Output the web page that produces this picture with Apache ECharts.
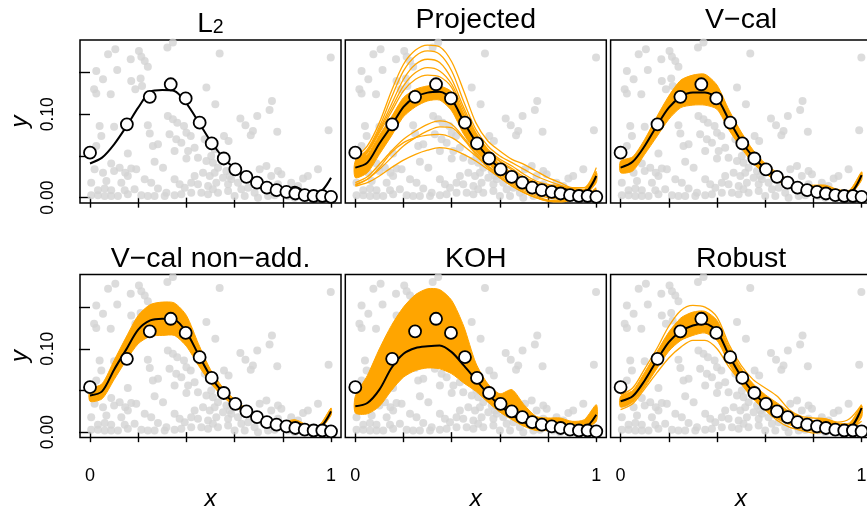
<!DOCTYPE html>
<html><head><meta charset="utf-8">
<script src="https://cdn.jsdelivr.net/npm/echarts@6/dist/echarts.min.js"></script>
<style>html,body{margin:0;padding:0;background:#fff}#c{width:867px;height:508px}</style>
</head><body><div id="c"></div>
<script>
// ---------- data ----------
const xGrid = [0,0.05,0.1,0.15,0.2,0.25,0.3,0.35,0.4,0.45,0.5,0.55,0.6,0.65,0.7,0.75,0.8,0.85,0.9,0.95,1];
const titles = ['L2','Projected','V\u2212cal','V\u2212cal non\u2212add.','KOH','Robust'];
const xTicks = [0,0.2,0.4,0.6,0.8,1];
const xTickLabels = [0,1];
const yTicks = [0,0.05,0.1,0.15];
const yTickLabels = [0,0.1];

const obsX = [0,0.153,0.248,0.335,0.397,0.455,0.505,0.555,0.603,0.649,0.693,0.734,0.774,0.815,0.852,0.891,0.928,0.964,1.0];
const obsY = [0.054,0.088,0.121,0.136,0.119,0.090,0.065,0.047,0.034,0.025,0.018,0.012,0.009,0.007,0.005,0.003,0.002,0.002,0.001];

const greyX = [0.265,0.344,0.321,0.105,0.075,0.203,0.213,0.169,0.227,0.240,0.026,0.113,0.054,0.171,0.210,0.017,0.026,0.086,0.188,0.216,
0.483,0.323,0.344,0.362,0.040,0.100,0.240,0.390,0.400,0.418,0.047,0.248,0.330,0.358,0.379,0.261,0.282,0.026,0.157,0.351,
0.407,0.434,0.476,0.088,0.123,0.268,0.303,0.400,0.448,0.483,0.019,0.054,0.100,0.146,0.171,0.192,0.227,0.254,0.351,0.372,
0.434,0.469,0.497,0.005,0.068,0.130,0.157,0.033,0.061,0.088,0.144,0.185,0.282,0.317,0.393,0.420,0.448,0.490,0.005,0.033,
0.061,0.088,0.116,0.157,0.213,0.240,0.268,0.310,0.351,0.379,0.420,0.462,0.490,0.538,0.999,0.520,0.755,0.745,0.694,0.624,
0.645,0.676,0.667,0.777,0.990,0.556,0.575,0.517,0.503,0.510,0.531,0.566,0.517,0.552,0.586,0.614,0.573,0.524,0.704,0.732,
0.780,0.794,0.752,0.946,0.904,0.884,0.835,0.863,0.780,0.628,0.683,0.573,0.531,0.510,0.600,0.642,0.697,0.739,0.766,0.822,
0.849,0.904,0.953,0.981,0.656,0.580];
const greyY = [0.192,0.186,0.180,0.178,0.172,0.176,0.169,0.166,0.164,0.157,0.152,0.153,0.142,0.140,0.143,0.130,0.125,0.124,0.130,0.134,
0.132,0.098,0.094,0.090,0.086,0.085,0.087,0.086,0.078,0.074,0.074,0.077,0.076,0.070,0.066,0.062,0.064,0.062,0.053,0.056,
0.056,0.060,0.070,0.041,0.036,0.043,0.036,0.047,0.048,0.044,0.034,0.030,0.032,0.030,0.035,0.034,0.022,0.018,0.022,0.016,
0.026,0.030,0.026,0.018,0.020,0.018,0.026,0.009,0.011,0.009,0.009,0.010,0.011,0.006,0.012,0.018,0.016,0.014,0.003,0.003,
0.002,0.002,0.002,0.004,0.003,0.002,0.002,0.002,0.003,0.004,0.006,0.006,0.004,0.173,0.168,0.112,0.116,0.105,0.098,0.095,
0.087,0.080,0.075,0.079,0.081,0.074,0.068,0.058,0.050,0.042,0.036,0.032,0.030,0.024,0.022,0.018,0.016,0.018,0.034,0.038,
0.032,0.028,0.026,0.034,0.026,0.023,0.018,0.014,0.016,0.010,0.006,0.008,0.006,0.010,0.002,0.002,0.000,0.002,0.003,0.002,
0.000,0.002,0.004,0.003,0.012,0.026];

// L2
const blackL2 = [0.041,0.048,0.064,0.085,0.108,0.127,0.129,0.128,0.113,0.091,0.068,0.049,0.035,0.025,0.017,0.011,0.008,0.013,0.007,0.007,0.024];
// Projected
const blackProj = [0.036,0.042,0.065,0.086,0.109,0.121,0.126,0.127,0.118,0.091,0.067,0.049,0.035,0.025,0.017,0.011,0.008,0.011,0.008,0.006,0.026];
const bandProjHi = [0.044,0.052,0.075,0.097,0.120,0.130,0.134,0.134,0.127,0.100,0.074,0.056,0.040,0.030,0.021,0.015,0.012,0.014,0.010,0.009,0.030];
const bandProjLo = [0.024,0.030,0.052,0.074,0.097,0.109,0.116,0.117,0.104,0.076,0.056,0.041,0.029,0.019,0.012,0.007,0.004,0.005,0.004,0.003,0.018];
const projUp1 = [0.048,0.062,0.090,0.128,0.160,0.177,0.183,0.181,0.163,0.128,0.090,0.068,0.056,0.046,0.040,0.032,0.024,0.018,0.012,0.012,0.036];
const projUp2 = [0.046,0.058,0.085,0.120,0.152,0.170,0.176,0.172,0.152,0.115,0.082,0.062,0.050,0.042,0.034,0.026,0.020,0.015,0.011,0.010,0.032];
const projUp3 = [0.045,0.056,0.082,0.112,0.142,0.160,0.166,0.162,0.142,0.108,0.078,0.058,0.046,0.038,0.028,0.020,0.016,0.014,0.010,0.009,0.030];
const projUp4 = [0.044,0.055,0.080,0.107,0.134,0.150,0.156,0.152,0.136,0.104,0.076,0.056,0.044,0.035,0.025,0.018,0.014,0.013,0.009,0.008,0.028];
const projUp5 = [0.043,0.054,0.078,0.103,0.128,0.142,0.147,0.145,0.132,0.100,0.074,0.056,0.043,0.033,0.023,0.016,0.013,0.012,0.009,0.008,0.028];
const projLow1 = [0.018,0.025,0.040,0.056,0.070,0.080,0.088,0.092,0.088,0.072,0.054,0.038,0.026,0.016,0.008,0.002,-0.003,-0.004,-0.003,0.000,0.010];
const projLow2 = [0.016,0.022,0.034,0.048,0.062,0.072,0.080,0.085,0.084,0.070,0.052,0.036,0.024,0.014,0.006,0.000,-0.004,-0.004,-0.002,0.001,0.012];
const projLow3 = [0.015,0.022,0.036,0.054,0.066,0.072,0.075,0.076,0.072,0.062,0.050,0.038,0.028,0.018,0.010,0.004,0.000,-0.002,-0.002,0.001,0.010];
const projLow4 = [0.014,0.018,0.026,0.036,0.045,0.052,0.057,0.060,0.058,0.052,0.044,0.034,0.024,0.014,0.006,0.000,-0.004,-0.005,-0.003,0.000,0.008];
// V-cal
const blackVcal = [0.036,0.043,0.062,0.086,0.108,0.121,0.126,0.126,0.119,0.093,0.068,0.049,0.035,0.025,0.018,0.012,0.009,0.011,0.007,0.006,0.027];
const bandVcalHi = [0.044,0.049,0.070,0.097,0.122,0.141,0.147,0.148,0.135,0.105,0.079,0.057,0.041,0.030,0.021,0.015,0.015,0.015,0.010,0.009,0.031];
const bandVcalLo = [0.030,0.032,0.052,0.073,0.094,0.108,0.111,0.111,0.106,0.081,0.060,0.041,0.029,0.020,0.013,0.007,0.005,0.005,0.003,0.003,0.021];
// V-cal non-add.
const blackNonadd = [0.044,0.049,0.075,0.099,0.123,0.134,0.136,0.135,0.120,0.093,0.067,0.048,0.035,0.025,0.018,0.012,0.009,0.011,0.007,0.006,0.025];
const bandNonaddHi = [0.051,0.058,0.086,0.114,0.140,0.153,0.156,0.155,0.140,0.106,0.075,0.054,0.039,0.028,0.020,0.014,0.012,0.015,0.009,0.008,0.029];
const bandNonaddLo = [0.037,0.040,0.063,0.086,0.106,0.115,0.116,0.116,0.103,0.080,0.059,0.043,0.031,0.022,0.015,0.009,0.006,0.006,0.004,0.003,0.020];
// KOH
const blackKOH = [0.031,0.035,0.051,0.077,0.094,0.101,0.103,0.104,0.096,0.080,0.063,0.046,0.032,0.021,0.012,0.006,0.004,0.007,0.007,0.006,0.021];
const bandKohHi = [0.043,0.068,0.100,0.128,0.150,0.165,0.172,0.171,0.158,0.127,0.083,0.058,0.046,0.051,0.033,0.019,0.017,0.017,0.013,0.015,0.033];
const bandKohLo = [0.023,0.022,0.031,0.050,0.066,0.074,0.077,0.076,0.070,0.059,0.049,0.036,0.024,0.015,0.007,0.002,0.002,0.003,0.001,0.004,0.013];
// Robust
const blackRobust = [0.037,0.043,0.062,0.086,0.108,0.121,0.128,0.130,0.121,0.092,0.067,0.048,0.034,0.025,0.018,0.011,0.008,0.010,0.006,0.006,0.029];
const bandRobustHi = [0.043,0.050,0.072,0.096,0.120,0.137,0.144,0.145,0.134,0.102,0.077,0.058,0.045,0.035,0.025,0.017,0.014,0.016,0.011,0.011,0.032];
const bandRobustLo = [0.030,0.036,0.054,0.076,0.097,0.110,0.116,0.119,0.110,0.082,0.058,0.040,0.026,0.016,0.009,0.004,0.001,0.002,0.000,0.001,0.018];
const robustUpper = [0.045,0.053,0.076,0.100,0.127,0.146,0.152,0.150,0.138,0.105,0.080,0.063,0.053,0.043,0.027,0.019,0.017,0.016,0.012,0.016,0.033];
const robustLower = [0.027,0.034,0.052,0.071,0.089,0.102,0.110,0.110,0.100,0.078,0.060,0.043,0.027,0.014,0.006,0.002,-0.001,0.000,-0.001,0.003,0.013];

// ---------- build ----------
const ORANGE = '#FFA500';
const FONT = '"Liberation Sans", Arial, Helvetica, sans-serif';
const panels = [
  {black: blackL2, lo: null, hi: null, extra: []},
  {black: blackProj, lo: bandProjLo, hi: bandProjHi, extra: [projUp1,projUp2,projUp3,projUp4,projUp5,projLow1,projLow2,projLow3,projLow4]},
  {black: blackVcal, lo: bandVcalLo, hi: bandVcalHi, extra: []},
  {black: blackNonadd, lo: bandNonaddLo, hi: bandNonaddHi, extra: []},
  {black: blackKOH, lo: bandKohLo, hi: bandKohHi, extra: []},
  {black: blackRobust, lo: bandRobustLo, hi: bandRobustHi, extra: [robustUpper, robustLower]}
];
const YMIN = -0.0064, YMAX = 0.1891, XMIN = -0.0415, XMAX = 1.0415;
const colLeft = [80, 345.3, 610.6];
const rowTop = [40, 274.5];
const titleTop = [6, 245];
const pairs = (xs, ys) => xs.map((x, i) => [x, ys[i]]);

const grid = [], xAxis = [], yAxis = [], series = [], title = [];
panels.forEach((p, k) => {
  const r = Math.floor(k / 3), c = k % 3;
  grid.push({left: colLeft[c], top: rowTop[r], width: 261, height: 163, show: true,
    borderColor: '#000', borderWidth: 1.5, backgroundColor: 'transparent', containLabel: false, outerBoundsMode: 'none'});
  const bottom = r === 1;
  xAxis.push({type: 'value', gridIndex: k, min: XMIN, max: XMAX, offset: 2,
    splitLine: {show: false}, axisLine: {show: false},
    axisTick: {show: true, customValues: xTicks, length: 10, lineStyle: {color: '#000', width: 1.4}},
    axisLabel: {show: bottom, customValues: xTickLabels, margin: 28, fontSize: 18, color: '#000', fontFamily: FONT,
      formatter: v => String(v)},
    name: bottom ? 'x' : '', nameLocation: 'middle', nameGap: 48,
    nameTextStyle: {fontSize: 24, fontStyle: 'italic', color: '#000', fontFamily: FONT}});
  const left = c === 0;
  yAxis.push({type: 'value', gridIndex: k, min: YMIN, max: YMAX,
    splitLine: {show: false}, axisLine: {show: false},
    axisTick: {show: left, customValues: yTicks, length: 11, lineStyle: {color: '#000', width: 1.4}},
    axisLabel: {show: left, customValues: yTickLabels, rotate: 90, margin: 23, fontSize: 17.5, color: '#000', fontFamily: FONT,
      formatter: v => v.toFixed(2)},
    name: left ? 'y' : '', nameLocation: 'middle', nameGap: 48, nameRotate: 90,
    nameTextStyle: {fontSize: 24, fontStyle: 'italic', color: '#000', fontFamily: FONT}});
  const cx = colLeft[c] + 130.5;
  if (k === 0) {
    title.push({text: '{m|L}{s|2}', left: cx, top: titleTop[r] + 1, textAlign: 'center', padding: 0,
      textStyle: {fontWeight: 'normal', rich: {
        m: {fontSize: 28, fontWeight: 'normal', fontFamily: FONT, color: '#000', verticalAlign: 'bottom', lineHeight: 31},
        s: {fontSize: 19.5, fontWeight: 'normal', fontFamily: FONT, color: '#000', verticalAlign: 'bottom', lineHeight: 31}}}});
  } else {
    title.push({text: titles[k], left: cx, top: titleTop[r], textAlign: 'center', padding: 0,
      textStyle: {fontSize: 28.5, fontWeight: 'normal', fontFamily: FONT, color: '#000'}});
  }
  const base = {xAxisIndex: k, yAxisIndex: k, animation: false, silent: true};
  series.push(Object.assign({}, base, {type: 'scatter', data: pairs(greyX, greyY), symbolSize: 8,
    itemStyle: {color: '#D3D3D3'}, z: 1}));
  if (p.lo) {
    const lo = p.lo, hi = p.hi;
    series.push(Object.assign({}, base, {type: 'custom', clip: true, data: [0], z: 2,
      renderItem: (params, api) => {
        const pts = [];
        for (let i = 0; i < xGrid.length; i++) pts.push(api.coord([xGrid[i], hi[i]]));
        for (let i = xGrid.length - 1; i >= 0; i--) pts.push(api.coord([xGrid[i], lo[i]]));
        return {type: 'polygon', shape: {points: pts, smooth: 0.25},
          style: {fill: ORANGE, stroke: ORANGE, lineWidth: 1}};
      }}));
  }
  p.extra.forEach(arr => series.push(Object.assign({}, base, {type: 'line', smooth: 0.3, symbol: 'none',
    data: pairs(xGrid, arr), lineStyle: {color: ORANGE, width: 1.3}, z: 3})));
  series.push(Object.assign({}, base, {type: 'line', smooth: 0.3, symbol: 'none',
    data: pairs(xGrid, p.black), lineStyle: {color: '#000', width: 2}, z: 4}));
  series.push(Object.assign({}, base, {type: 'scatter', data: pairs(obsX, obsY), symbol: 'circle', symbolSize: 12,
    itemStyle: {color: '#fff', borderColor: '#000', borderWidth: 1.8, opacity: 1}, z: 5}));
});

const chart = echarts.init(document.getElementById('c'), null, {renderer: 'canvas'});
chart.setOption({backgroundColor: '#fff', animation: false, title, grid, xAxis, yAxis, series});
</script></body></html>
